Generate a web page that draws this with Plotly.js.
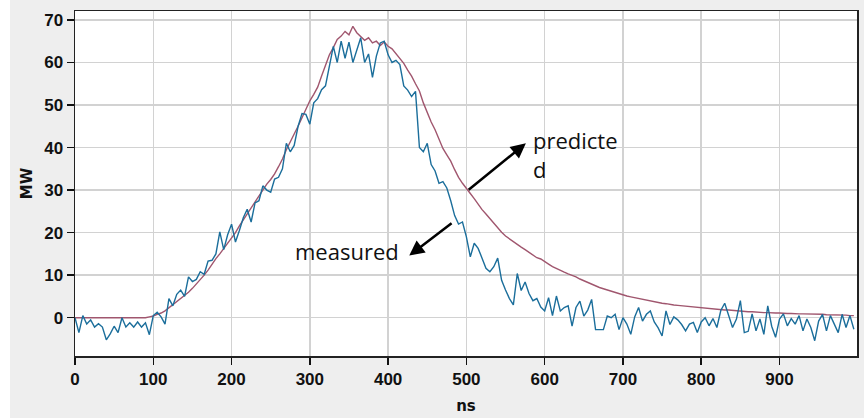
<!DOCTYPE html>
<html>
<head>
<meta charset="utf-8">
<script src="https://cdn.plot.ly/plotly-3.0.1.min.js"></script>
<style>html,body{margin:0;padding:0;background:#eeeeee;}#chart{width:864px;height:418px;}</style>
</head>
<body>
<div id="chart"></div>
<script>
// sampling grid (ns)
const sampleStep = 5;
// measured power (MW), one value every 5 ns from 0 ns
const measured = [
  0, -3.5, 0.5, -1.5, -0.5, -2.2, -1.4, -2.2, -5.2, -3.8, -2.0, -3.5, 0.0, -2.2, -1.2, -2.2, -1.0, -2.2, -1.2, -4.0,
  0.5, 1.3, 0.2, -1.5, 4.5, 2.8, 5.5, 6.5, 5.0, 9.6, 8.5, 9.0, 10.8, 10.2, 13.3, 13.5, 15.0, 20.2, 16.0, 19.5,
  22.0, 17.8, 20.5, 23.5, 25.5, 22.5, 27.0, 27.5, 31.0, 30.0, 29.5, 32.6, 33.0, 35.0, 41.0, 39.0, 40.5, 45.0, 48.0, 47.8,
  45.5, 50.5, 51.5, 53.6, 54.5, 58.8, 63.8, 60.0, 65.0, 61.0, 64.8, 60.0, 63.0, 65.8, 60.0, 62.0, 56.5, 61.5, 64.6, 65.0,
  61.8, 60.0, 60.5, 59.5, 54.5, 53.5, 52.0, 53.2, 40.0, 39.0, 41.0, 36.0, 34.5, 31.6, 32.0, 30.5, 27.5, 24.0, 22.0, 22.5,
  19.0, 14.3, 17.5, 16.3, 14.0, 11.6, 10.8, 12.0, 14.0, 8.8, 6.5, 4.5, 3.0, 10.4, 6.4, 8.4, 5.7, 4.0, 4.5, 2.5,
  1.6, 4.7, 0.5, 5.1, 1.6, 2.4, 2.8, -2.0, 2.4, 3.9, 0.4, 1.8, 4.3, -2.8, -2.8, -2.8, 0.4, 0.0, 0.8, -2.8,
  0.0, -1.5, -3.9, 0.2, 2.4, -0.8, 0.8, 1.6, -1.0, -2.4, -4.3, 1.6, -1.6, 0.2, -0.5, -1.6, -3.1, -1.5, -1.1, -3.5,
  -1.0, 0.0, -1.9, -0.2, -2.3, 1.7, 3.4, 0.5, -2.3, -0.3, 4.0, -3.5, -3.2, 0.9, -3.1, -0.3, -3.9, 2.8, -2.0, -4.6,
  -0.3, 0.9, -1.9, -0.2, -1.5, 0.5, -3.1, -0.3, -2.3, -5.4, -0.8, 0.8, -3.1, 0.5, -1.5, -3.5, 0.8, -2.3, 0.5, -2.7
];
// predicted power (MW), one value every 5 ns from 0 ns
const predicted = [
  0, 0, 0, 0, 0, 0, 0, 0, 0, 0, 0, 0, 0, 0, 0, 0, 0, 0, 0, 0.2,
  0.4, 0.8, 1.1, 1.6, 2.3, 3.0, 3.7, 4.5, 5.2, 6.0, 6.9, 7.9, 8.8, 10.0, 11.2, 12.6, 13.9, 15.0, 16.3, 17.5,
  18.7, 20.0, 21.6, 23.0, 24.4, 25.8, 27.2, 28.8, 30.2, 31.4, 32.5, 33.8, 35.5, 37.3, 39.5, 41.5, 43.2, 45.0, 47.0, 49.0,
  51.0, 52.5, 54.2, 56.8, 59.5, 61.8, 63.5, 65.4, 66.2, 67.3, 66.5, 68.5, 67.0, 66.0, 65.2, 65.8, 64.6, 65.0, 64.0, 64.8,
  63.8, 63.2, 62.0, 61.0, 59.8, 58.2, 56.8, 55.0, 53.3, 50.5, 48.0, 46.0, 44.2, 41.8, 39.8, 38.3, 36.8, 34.8, 33.0, 31.6,
  30.5, 29.2, 28.0, 26.6, 25.4, 24.4, 23.3, 22.2, 21.0, 20.1, 19.2, 18.5, 17.9, 17.3, 16.6, 16.0, 15.4, 14.7, 14.1, 13.8,
  13.3, 12.6, 12.0, 11.5, 11.1, 10.7, 10.3, 10.0, 9.6, 9.1, 8.7, 8.2, 7.8, 7.4, 7.1, 6.8, 6.5, 6.2, 5.9, 5.6,
  5.4, 5.1, 4.9, 4.7, 4.5, 4.3, 4.1, 3.9, 3.8, 3.6, 3.4, 3.3, 3.1, 3.0, 2.9, 2.8, 2.7, 2.6, 2.5, 2.4,
  2.4, 2.3, 2.2, 2.1, 2.0, 1.9, 1.8, 1.8, 1.7, 1.6, 1.6, 1.5, 1.4, 1.4, 1.3, 1.2, 1.2, 1.2, 1.1, 1.1,
  1.1, 1.0, 1.0, 1.0, 0.9, 0.9, 0.9, 0.9, 0.8, 0.8, 0.8, 0.8, 0.7, 0.7, 0.7, 0.6, 0.6, 0.6, 0.5, 0.5
];
const xTicks = [0, 100, 200, 300, 400, 500, 600, 700, 800, 900];
const yTicks = [0, 10, 20, 30, 40, 50, 60, 70];
const xTitle = 'ns';
const yTitle = 'MW';
const labelPredicted = 'predicte<br>d';
const labelMeasured = 'measured';

const ns = measured.map((_, i) => i * sampleStep);
const boldLabel = v => '<b>' + v + '</b>';

const traces = [
  {x: ns, y: predicted, type: 'scatter', mode: 'lines', line: {color: '#a0566e', width: 1.4}, name: 'predicted'},
  {x: ns, y: measured, type: 'scatter', mode: 'lines', line: {color: '#1b6e9b', width: 1.4}, name: 'measured'}
];

const tickFont = {family: 'Liberation Sans, Arial, sans-serif', size: 17, color: '#111'};
const titleFont = {family: 'DejaVu Sans, sans-serif', size: 15, color: '#111', weight: 'bold'};
const noteFont = {family: 'Open Sans, sans-serif', size: 22, color: '#111'};

const layout = {
  width: 864, height: 418,
  margin: {l: 75, r: 7, t: 11, b: 62},
  paper_bgcolor: '#eeeeee',
  plot_bgcolor: '#ffffff',
  showlegend: false,
  xaxis: {
    range: [0, 999], tickvals: xTicks, ticktext: xTicks.map(boldLabel),
    ticks: 'outside', ticklen: 7, tickwidth: 1.5, tickcolor: '#111',
    showgrid: true, gridcolor: '#d2d2d2', gridwidth: 1.5, zeroline: false,
    showline: true, linecolor: '#222', linewidth: 1.5, mirror: true,
    tickfont: tickFont,
    title: {text: xTitle, font: titleFont, standoff: 12}
  },
  yaxis: {
    range: [-9, 72.1], tickvals: yTicks, ticktext: yTicks.map(boldLabel),
    ticks: 'outside', ticklen: 7, tickwidth: 1.5, tickcolor: '#111',
    showgrid: true, gridcolor: '#d2d2d2', gridwidth: 1.5, zeroline: false,
    showline: true, linecolor: '#222', linewidth: 1.5, mirror: true,
    tickfont: tickFont,
    title: {text: yTitle, font: titleFont, standoff: 8}
  },
  shapes: [
    {type: 'rect', xref: 'paper', yref: 'paper', x0: -75/782, x1: -65/782, y0: -62/345, y1: 356/345, fillcolor: '#ffffff', line: {width: 0}, layer: 'below'}
  ],
  annotations: [
    {x: 582, y: 38.3, xref: 'x', yref: 'y', text: labelPredicted, showarrow: false, xanchor: 'left', yanchor: 'middle', align: 'left', font: noteFont},
    {x: 278, y: 15.8, xref: 'x', yref: 'y', text: labelMeasured, showarrow: false, xanchor: 'left', yanchor: 'middle', align: 'left', font: noteFont},
    {x: 576, y: 41.0, ax: 501, ay: 29.8, xref: 'x', yref: 'y', axref: 'x', ayref: 'y', text: '', showarrow: true, arrowhead: 2, arrowsize: 1.2, arrowwidth: 2.5, arrowcolor: '#000'},
    {x: 427, y: 14.6, ax: 483, ay: 22.5, xref: 'x', yref: 'y', axref: 'x', ayref: 'y', text: '', showarrow: true, arrowhead: 2, arrowsize: 1.2, arrowwidth: 2.5, arrowcolor: '#000'}
  ]
};

Plotly.newPlot('chart', traces, layout, {displayModeBar: false, staticPlot: true});
</script>
</body>
</html>
